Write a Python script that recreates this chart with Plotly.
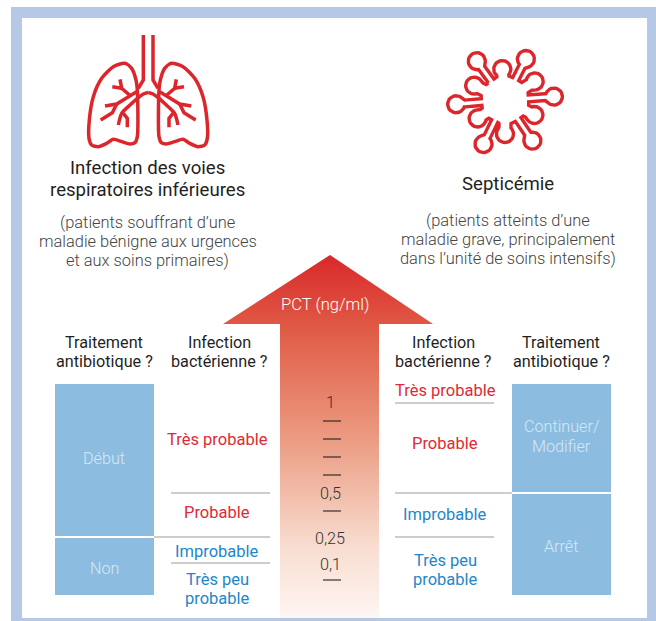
import math
import plotly.graph_objects as go

W, H = 656, 621
FONT = "Roboto"
RED, BLUE, INK, SOFT = "#df2a35", "#2386cb", "#1f1f1f", "#444444"
BOX, BOX_TEXT, RULE, FRAME = "#8cbde0", "#d6e7f4", "#bdbdbd", "#b5c9e6"
ICON = "#dc262c"

# --- content -------------------------------------------------------------
pct_labels = ["1", "0,5", "0,25", "0,1"]
pct_label_y = [402, 493, 538, 564]
pct_tick_y = [421, 439, 457, 475, 511, 580]

left_likelihood = ["Très probable", "Probable", "Improbable", "Très peu", "probable"]
left_likelihood_y = [439, 512, 551, 579, 598]
left_likelihood_col = [RED, RED, BLUE, BLUE, BLUE]
right_likelihood = ["Très probable", "Probable", "Improbable", "Très peu", "probable"]
right_likelihood_y = [390, 443, 514, 560, 579]
right_likelihood_col = [RED, RED, BLUE, BLUE, BLUE]

left_rules = [(171, 270, 493), (154, 270, 537), (171, 270, 563)]
right_rules = [(395, 494, 403), (395, 512, 493), (395, 494, 537)]

left_boxes = [(55, 154, 384, 536), (55, 154, 538, 595)]
right_boxes = [(512, 611, 384, 492), (512, 611, 494, 595)]

TITLE, SUB, BODY = 18.6, 16.4, 16.2
texts = [
    ("Infection des voies", 147.5, 168, TITLE, INK, 400),
    ("respiratoires inférieures", 147.5, 190, TITLE, INK, 400),
    ("(patients souffrant d’une", 147.5, 222, SUB, SOFT, 300),
    ("maladie bénigne aux urgences", 147.5, 241, SUB, SOFT, 300),
    ("et aux soins primaires)", 147.5, 260, SUB, SOFT, 300),
    ("Septicémie", 508, 184, TITLE, INK, 400),
    ("(patients atteints d’une", 508, 220, SUB, SOFT, 300),
    ("maladie grave, principalement", 508, 239, SUB, SOFT, 300),
    ("dans l’unité de soins intensifs)", 508, 258, SUB, SOFT, 300),
    ("Traitement", 104, 342, BODY, INK, 400),
    ("antibiotique ?", 104, 361, BODY, INK, 400),
    ("Infection", 219, 342, BODY, INK, 400),
    ("bactérienne ?", 219, 361, BODY, INK, 400),
    ("Infection", 443, 342, BODY, INK, 400),
    ("bactérienne ?", 443, 361, BODY, INK, 400),
    ("Traitement", 561, 342, BODY, INK, 400),
    ("antibiotique ?", 561, 361, BODY, INK, 400),
    ("PCT (ng/ml)", 324.5, 304, 16.6, "#ffffff", 300),
    ("Début", 104, 458, BODY, BOX_TEXT, 300),
    ("Non", 104, 568, BODY, BOX_TEXT, 300),
    ("Continuer/", 561, 426, BODY, BOX_TEXT, 300),
    ("Modifier", 561, 446, BODY, BOX_TEXT, 300),
    ("Arrêt", 561, 546, BODY, BOX_TEXT, 300),
]

arrow_x = [330, 433, 379, 379, 280, 280, 223, 330]
arrow_y = [255, 324, 324, 618, 618, 324, 324, 255]
arrow_scale = [[0, "#fef6f2"], [0.2, "#f8dccf"], [0.5, "#eb9a80"],
               [0.8, "#e05a45"], [1, "#d9282a"]]

fig = go.Figure()


def rect(x0, x1, y0, y1, color):
    fig.add_shape(type="rect", x0=x0, x1=x1, y0=y0, y1=y1, xref="x", yref="y",
                  fillcolor=color, line_width=0, layer="below")


rect(11, W, 7, H, FRAME)
rect(22, 647, 18, 618, "#ffffff")

fig.add_trace(go.Scatter(
    x=arrow_x, y=arrow_y, mode="lines", fill="toself", line=dict(width=0),
    fillgradient=dict(type="vertical", colorscale=arrow_scale),
    hoverinfo="skip", showlegend=False))

for b in left_boxes + right_boxes:
    fig.add_shape(type="rect", x0=b[0], x1=b[1], y0=b[2], y1=b[3], xref="x", yref="y",
                  fillcolor=BOX, line_width=0, layer="above")

for r in left_rules + right_rules:
    fig.add_trace(go.Scatter(x=[r[0], r[1]], y=[r[2], r[2]], mode="lines",
                             line=dict(color=RULE, width=1.6), hoverinfo="skip", showlegend=False))

for y in pct_tick_y:
    fig.add_trace(go.Scatter(x=[323, 341], y=[y, y], mode="lines",
                             line=dict(color="#222222", width=1.1), hoverinfo="skip", showlegend=False))


# --- lungs icon: points read in a 3x crop whose origin is (80, 30) -------
def lp(points, mirror=False):
    xs = [80 + (409 - p[0] if mirror else p[0]) / 3 for p in points]
    ys = [30 + p[1] / 3 for p in points]
    return xs, ys


lung_curves = [
    ([(172, 180), (172, 320), (165, 338), (150, 342), (125, 335), (100, 328), (80, 340), (55, 350),
      (35, 345), (27, 325), (28, 270), (40, 200), (65, 145), (100, 110), (135, 100), (155, 115),
      (168, 150), (172, 180)], "spline"),
    ([(204.5, 187), (190, 192), (172, 205), (150, 225), (125, 250), (115, 285)], "spline"),
    ([(130, 250), (142, 265), (142, 292)], "linear"),
    ([(170, 185), (110, 222), (75, 228)], "linear"),
    ([(110, 222), (97, 248), (62, 270)], "linear"),
    ([(152, 198), (125, 175), (120, 148)], "linear"),
    ([(125, 175), (97, 170)], "linear"),
    ([(190, 15), (190, 150), (175, 175)], "linear"),
]
for pts, shape in lung_curves:
    for m in (False, True):
        xs, ys = lp(pts, m)
        fig.add_trace(go.Scatter(x=xs, y=ys, mode="lines",
                                 line=dict(color=ICON, width=3.5, shape=shape, smoothing=0.7),
                                 hoverinfo="skip", showlegend=False))


# --- virus icon ----------------------------------------------------------
CX, CY, R = 505, 100, 23.5
LONG_B, LONG_W, SHORT_B, SHORT_W = 8.5, 3.4, 8.5, 6.0
lobes = [(126, 48, LONG_B, LONG_W), (95, 31, SHORT_B, SHORT_W), (63, 46, LONG_B, LONG_W),
         (32, 35, SHORT_B, SHORT_W), (4, 49, LONG_B, LONG_W), (-27, 33, SHORT_B, SHORT_W),
         (-56, 49, LONG_B, LONG_W), (-90, 34, SHORT_B, SHORT_W), (-116, 49, LONG_B, LONG_W),
         (-146, 33, SHORT_B, SHORT_W), (-175, 49, LONG_B, LONG_W), (155, 34, SHORT_B, SHORT_W)]
vx, vy = [], []
for ang, d, b, w in lobes:
    t = math.radians(ang)
    ux, uy = math.cos(t), -math.sin(t)
    tx, ty = -uy, ux
    a0 = math.asin(w / b)
    pts = [(R, -w), (d - b * math.cos(a0) - 1, -w)]
    n = 24
    for i in range(n + 1):
        phi = -(math.pi - a0) + i * 2 * (math.pi - a0) / n
        pts.append((d + b * math.cos(phi), b * math.sin(phi)))
    pts += [(d - b * math.cos(a0) - 1, w), (R, w)]
    for u, v in pts:
        vx.append(CX + u * ux + v * tx)
        vy.append(CY + u * uy + v * ty)
vx.append(vx[0])
vy.append(vy[0])
fig.add_trace(go.Scatter(x=vx, y=vy, mode="lines", line=dict(color=ICON, width=3.4, shape="linear"),
                         hoverinfo="skip", showlegend=False))

# --- text ----------------------------------------------------------------
annotations = []


def label(txt, x, y, size, color, weight=400):
    annotations.append(dict(text=txt, x=x, y=y, xref="x", yref="y", showarrow=False,
                            xanchor="center", yanchor="middle", borderpad=0,
                            font=dict(family=FONT, size=size, color=color, weight=weight)))


for t in texts:
    label(*t)
for t, y, c in zip(left_likelihood, left_likelihood_y, left_likelihood_col):
    label(t, 217, y, 16.5, c)
for t, y, c in zip(right_likelihood, right_likelihood_y, right_likelihood_col):
    label(t, 445, y, 16.5, c)
for t, y in zip(pct_labels, pct_label_y):
    label(t, 330, y, BODY, "#333333", 300)

fig.update_layout(
    width=W, height=H, autosize=False, margin=dict(l=0, r=0, t=0, b=0),
    paper_bgcolor="#ffffff", plot_bgcolor="#ffffff", showlegend=False,
    annotations=annotations,
    xaxis=dict(range=[0, W], visible=False, fixedrange=True),
    yaxis=dict(range=[H, 0], visible=False, fixedrange=True),
)
fig.write_html("out.html", config={"displayModeBar": False},
               post_script="document.body.style.margin='0';document.documentElement.style.overflow='hidden';")
